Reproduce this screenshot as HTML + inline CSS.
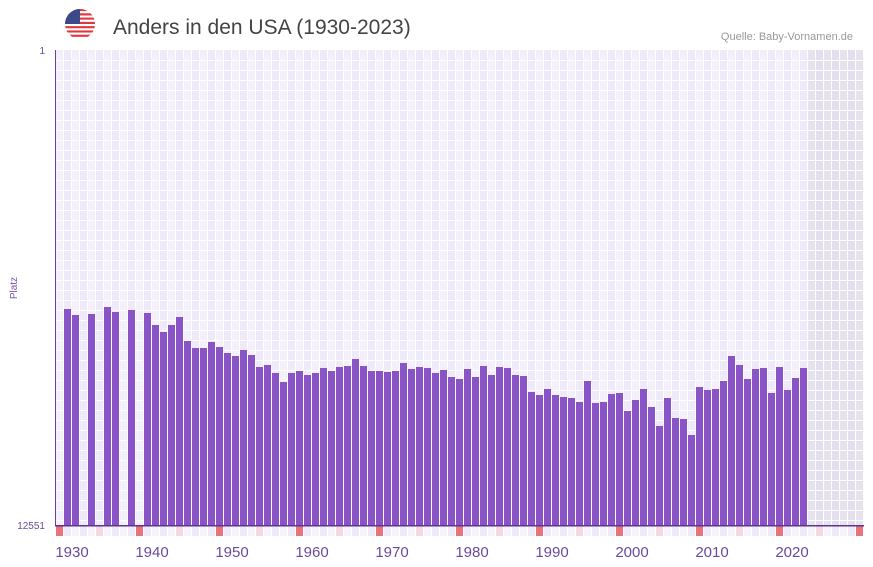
<!DOCTYPE html>
<html><head><meta charset="utf-8"><style>
html,body{margin:0;padding:0;background:#fff;width:873px;height:567px;overflow:hidden;font-family:"Liberation Sans",sans-serif}
</style></head><body>
<svg id="s" width="873" height="567" xmlns="http://www.w3.org/2000/svg" font-family="Liberation Sans, sans-serif"></svg>
<script>
const tops=[null,309,315,null,314,null,307,312,null,310,null,313,325,332,325,317,341,348,348,342,347,353,356,350,355,367,365,373,382,373,371,375,
373,368,371,367,366,359,366,371,371,372,371,363,369,367,368,373,370,377,379,369,377,366,375,367,368,375,376,392,395,389,
395,397,398,402,381,403,402,394,393,411,400,389,407,426,398,418,419,435,387,390,389,381,356,365,379,369,368,393,367,390,378,368];
let h='';
for(let k=0;k<101;k++){
  const x=56+8*k;
  let c = k>=94 ? (k%2?'#e3dfec':'#e6e2ee') : (k%2?'#efeaf9':'#f4f0fb');
  h+=`<rect x="${x}" y="50" width="8" height="475" fill="${c}"/>`;
  let bc = k%10==0?'#e8737a':(k%5==0?'#f6d8e2':(k%2?'#efeaf9':'#f6f3fc'));
  h+=`<rect x="${x}" y="526" width="7" height="10" fill="${bc}"/>`;
}
for(let k=0;k<101;k++){h+=`<rect x="${56+8*k+7}" y="50" width="1" height="475" fill="#fff"/>`;}
for(let y=60;y<525;y+=10){h+=`<rect x="56" y="${y}" width="808" height="1" fill="#fff"/>`;}
for(let k=1;k<tops.length;k++){ if(tops[k]==null)continue;
  h+=`<rect x="${56+8*k}" y="${tops[k]}" width="7" height="${525-tops[k]}" fill="#8b54c6"/>`;}
h+=`<rect x="55" y="50" width="1" height="476" fill="#6a3fa0"/><rect x="55" y="525" width="809" height="1.5" fill="#5a3490"/>`;
h+=`<text x="45" y="54" font-size="10" fill="#6a4a9a" text-anchor="end">1</text>`;
h+=`<text x="45" y="529" font-size="10" fill="#6a4a9a" text-anchor="end">12551</text>`;
h+=`<text transform="translate(17,288) rotate(-90)" font-size="10" fill="#7a4fb5" text-anchor="middle">Platz</text>`;
for(let i=0;i<10;i++){h+=`<text x="${72+80*i}" y="557" font-size="15" fill="#6a4a9a" text-anchor="middle">${1930+10*i}</text>`;}
h+=`<defs><clipPath id="c"><circle cx="80" cy="24" r="15"/></clipPath></defs><g clip-path="url(#c)">`;
for(let i=0;i<7;i++){h+=`<rect x="65" y="${9+i*30/7}" width="30" height="2.2" fill="#e0363c"/><rect x="65" y="${11.2+i*30/7}" width="30" height="2.1" fill="#fff"/>`;}
h+=`<rect x="65" y="9" width="15" height="15" fill="#3c4a8c"/></g>`;
h+=`<text x="113" y="34" font-size="21" fill="#444">Anders in den USA (1930-2023)</text>`;
h+=`<text x="853" y="40" font-size="11" fill="#999" text-anchor="end">Quelle: Baby-Vornamen.de</text>`;
document.getElementById('s').innerHTML=h;
</script>
</body></html>
